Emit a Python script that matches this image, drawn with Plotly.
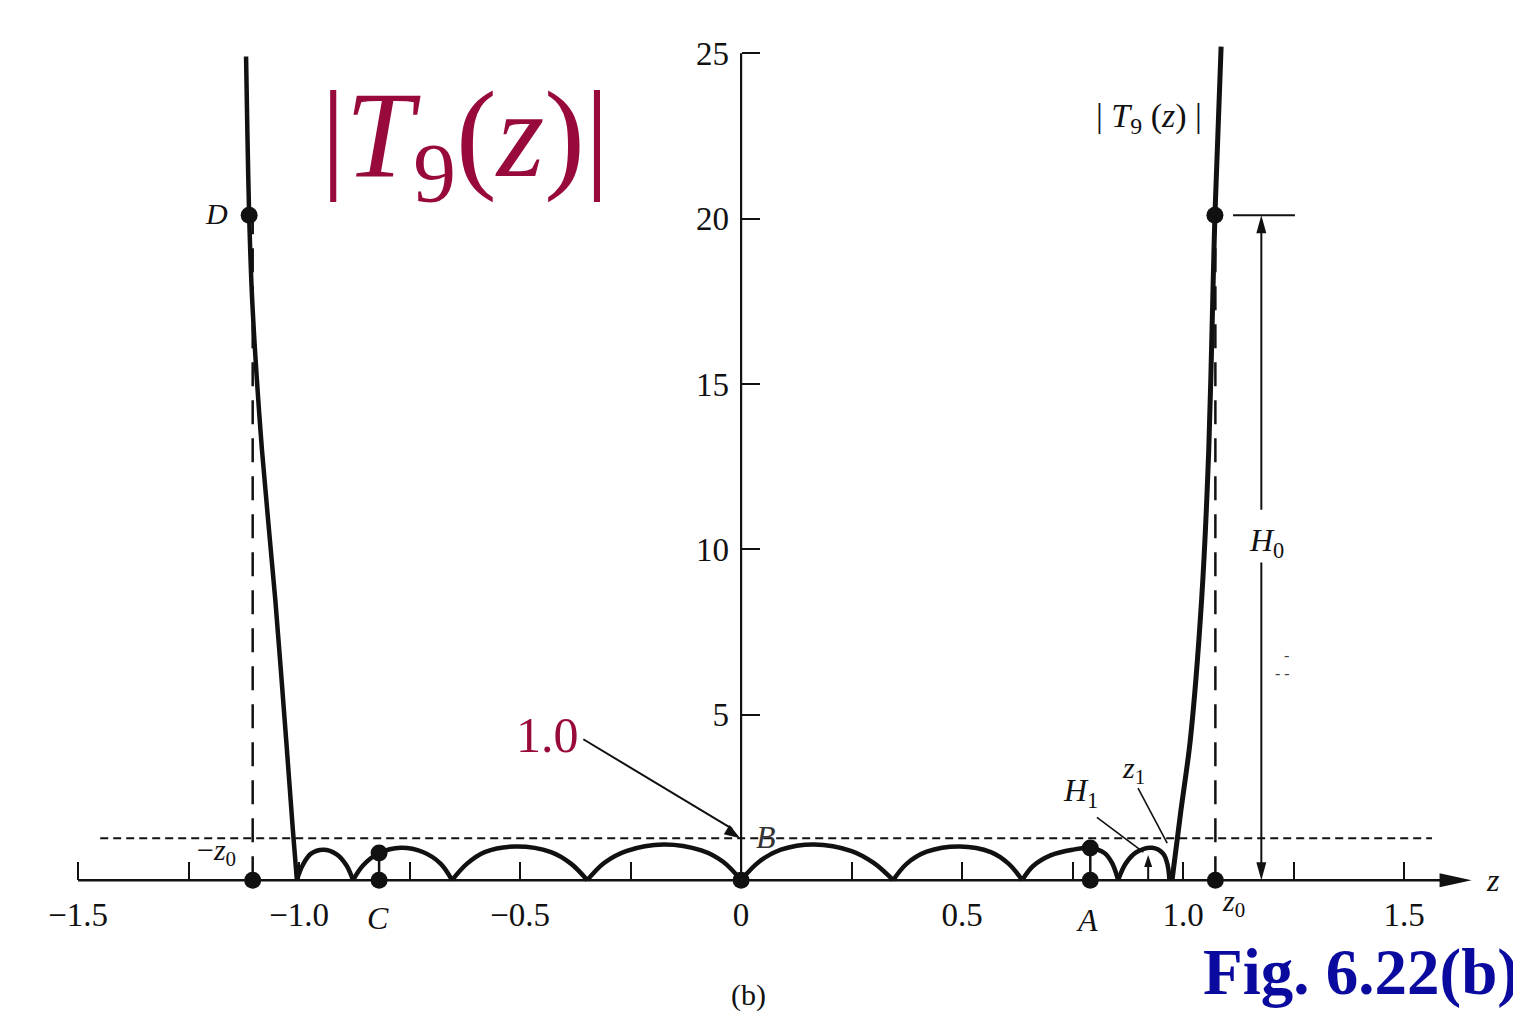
import plotly.graph_objects as go

# ---------------- data ----------------
# |T9(z)| arches between successive zeros
arch1_z = [-1.005, -0.992, -0.973, -0.945, -0.915, -0.893, -0.878]
arch1_t = [0.0, 0.45, 0.80, 0.92, 0.78, 0.45, 0.0]
arch2_z = [-0.878, -0.855, -0.819, -0.770, -0.720, -0.680, -0.654]
arch2_t = [0.0, 0.45, 0.82, 0.98, 0.85, 0.50, 0.0]
arch3_z = [-0.654, -0.620, -0.580, -0.510, -0.430, -0.385, -0.348]
arch3_t = [0.0, 0.50, 0.85, 1.02, 0.85, 0.50, 0.0]
arch4_z = [-0.348, -0.310, -0.260, -0.175, -0.090, -0.040, 0.000]
arch4_t = [0.0, 0.52, 0.88, 1.08, 0.90, 0.55, 0.0]
arch5_z = [0.000, 0.040, 0.090, 0.165, 0.250, 0.300, 0.344]
arch5_t = [0.0, 0.55, 0.92, 1.08, 0.88, 0.52, 0.0]
arch6_z = [0.344, 0.375, 0.420, 0.495, 0.565, 0.605, 0.636]
arch6_t = [0.0, 0.50, 0.86, 1.02, 0.85, 0.50, 0.0]
arch7_z = [0.636, 0.660, 0.700, 0.750, 0.790, 0.822, 0.840, 0.853]
arch7_t = [0.0, 0.42, 0.75, 0.92, 0.97, 0.82, 0.50, 0.0]
arch8_z = [0.853, 0.870, 0.895, 0.930, 0.955, 0.965, 0.969]
arch8_t = [0.0, 0.50, 0.85, 0.98, 0.80, 0.45, 0.0]

# steep outer branches (|z| > 1)
left_z = [-1.005, -1.014, -1.029, -1.054, -1.084, -1.106, -1.113, -1.117, -1.120]
left_t = [0.0, 1.5, 4.2, 8.5, 13.0, 17.5, 20.1, 22.6, 24.9]
right_z = [0.975, 0.995, 1.016, 1.042, 1.058, 1.067, 1.072, 1.086]
right_t = [0.0, 2.1, 4.2, 8.5, 13.0, 17.5, 20.1, 25.2]

# marked points: -z0, C(axis), C(curve), B, A(axis), A(curve), z0, D, top-right
pt_z = [-1.105, -0.819, -0.819, 0.0, 0.790, 0.790, 1.073, -1.113, 1.072]
pt_t = [0.0, 0.0, 0.82, 0.0, 0.0, 0.97, 0.0, 20.1, 20.1]

x_tickvals = [-1.5, -1.0, -0.5, 0.0, 0.5, 1.0, 1.5]
x_ticktext = ["\u22121.5", "\u22121.0", "\u22120.5", "0", "0.5", "1.0", "1.5"]
y_tickvals = [5, 10, 15, 20, 25]
y_ticktext = ["5", "10", "15", "20", "25"]

ref_level = 1.27       # dashed horizontal reference line
z0_val = 1.073
mz0_val = -1.105
H0_level = 20.1
H1_level = 0.76

# ---------------- layout geometry ----------------
OFF = 8                      # page offset of the figure (body margin)
W, H = 1521 - OFF, 1013 - OFF
PAGE_L, PAGE_R, PAGE_T, PAGE_B = 56, 1472, 40, 900
ML, MR, MT, MB = PAGE_L - OFF, W - (PAGE_R - OFF), PAGE_T - OFF, H - (PAGE_B - OFF)
PW = W - ML - MR
PH = H - MT - MB
XR = [-1.55, -1.55 + PW / 442.0]
YR = [-0.6, 25.4]
SX = PW / (XR[1] - XR[0])
SY = PH / (YR[1] - YR[0])

SERIF = "Liberation Serif, Times New Roman, serif"
MAROON = "#990a3c"
INK = "#111111"


def head(x0, y0, x1, y1, L, Wd):
    dx = (x1 - x0) * SX
    dy = (y1 - y0) * SY
    n = (dx * dx + dy * dy) ** 0.5
    ux, uy = dx / n, dy / n
    bx, by = x1 * SX - ux * L, y1 * SY - uy * L
    px, py = -uy, ux
    pts = [(x1 * SX, y1 * SY), (bx + px * Wd, by + py * Wd), (bx - px * Wd, by - py * Wd)]
    return "M " + " L ".join(f"{a / SX:.5f},{b / SY:.5f}" for a, b in pts) + " Z"


fig = go.Figure()

arch_list = [(arch1_z, arch1_t), (arch2_z, arch2_t), (arch3_z, arch3_t), (arch4_z, arch4_t),
             (arch5_z, arch5_t), (arch6_z, arch6_t), (arch7_z, arch7_t), (arch8_z, arch8_t)]
ax_x, ax_y = [], []
for zz, tt in arch_list:
    ax_x += zz + [None]
    ax_y += tt + [None]
fig.add_trace(go.Scatter(x=ax_x, y=ax_y, mode="lines",
                         line=dict(color=INK, width=4.5, shape="spline", smoothing=1.0),
                         connectgaps=False, hoverinfo="skip"))
fig.add_trace(go.Scatter(x=left_z, y=left_t, mode="lines",
                         line=dict(color=INK, width=4.5, shape="spline", smoothing=0.8),
                         hoverinfo="skip"))
fig.add_trace(go.Scatter(x=right_z, y=right_t, mode="lines",
                         line=dict(color=INK, width=5, shape="spline", smoothing=0.8),
                         hoverinfo="skip"))
fig.add_trace(go.Scatter(x=pt_z, y=pt_t, mode="markers", cliponaxis=False,
                         marker=dict(color=INK, size=17), hoverinfo="skip"))

shapes = []
x_tip = XR[1] - 0.001
shapes.append(dict(type="line", xref="x", yref="y", x0=-1.5, x1=x_tip - 0.02, y0=0, y1=0,
                   line=dict(color=INK, width=2.5)))
shapes.append(dict(type="path", xref="x", yref="y", path=head(-1.5, 0, x_tip, 0, 32, 7),
                   fillcolor=INK, line=dict(width=0)))
shapes.append(dict(type="line", xref="x", yref="y", x0=0, x1=0, y0=0, y1=25,
                   line=dict(color=INK, width=2.2)))
for xv in (mz0_val, z0_val):
    shapes.append(dict(type="line", xref="x", yref="y", x0=xv, x1=xv, y0=0, y1=H0_level,
                       line=dict(color=INK, width=2.5, dash="24px,14px")))
shapes.append(dict(type="line", xref="x", yref="y", x0=-1.45, x1=1.563, y0=ref_level, y1=ref_level,
                   line=dict(color=INK, width=2, dash="8px,5px")))
shapes.append(dict(type="line", xref="x", yref="y", x0=pt_z[1], x1=pt_z[2], y0=pt_t[1], y1=pt_t[2],
                   line=dict(color=INK, width=2.5)))
shapes.append(dict(type="line", xref="x", yref="y", x0=pt_z[4], x1=pt_z[5], y0=pt_t[4], y1=pt_t[5],
                   line=dict(color=INK, width=2.5)))
h0x = 1.177
shapes.append(dict(type="line", xref="x", yref="y", x0=1.113, x1=1.253, y0=H0_level, y1=H0_level,
                   line=dict(color=INK, width=2)))
shapes.append(dict(type="line", xref="x", yref="y", x0=h0x, x1=h0x, y0=11.2, y1=H0_level - 0.3,
                   line=dict(color=INK, width=2)))
shapes.append(dict(type="path", xref="x", yref="y", path=head(h0x, 11.2, h0x, H0_level, 18, 5),
                   fillcolor=INK, line=dict(width=0)))
shapes.append(dict(type="line", xref="x", yref="y", x0=h0x, x1=h0x, y0=9.6, y1=0.3,
                   line=dict(color=INK, width=2)))
shapes.append(dict(type="path", xref="x", yref="y", path=head(h0x, 9.6, h0x, 0, 18, 5),
                   fillcolor=INK, line=dict(width=0)))
shapes.append(dict(type="line", xref="x", yref="y", x0=0.921, x1=0.921, y0=0, y1=H1_level - 0.2,
                   line=dict(color=INK, width=2)))
shapes.append(dict(type="path", xref="x", yref="y", path=head(0.921, 0, 0.921, H1_level, 12, 4),
                   fillcolor=INK, line=dict(width=0)))
shapes.append(dict(type="line", xref="x", yref="y", x0=0.805, y0=1.90, x1=0.910, y1=0.85,
                   line=dict(color=INK, width=1.6)))
shapes.append(dict(type="line", xref="x", yref="y", x0=0.898, y0=2.78, x1=0.964, y1=1.12,
                   line=dict(color=INK, width=1.6)))
shapes.append(dict(type="line", xref="x", yref="y", x0=-0.357, y0=4.26, x1=-0.02, y1=1.55,
                   line=dict(color=INK, width=2)))
shapes.append(dict(type="path", xref="x", yref="y", path=head(-0.357, 4.26, -0.002, 1.27, 16, 5.5),
                   fillcolor=INK, line=dict(width=0)))


def ppx(px):
    return (px - PAGE_L) / PW


def ppy(py):
    return (PAGE_B - py) / PH


ann = []


def txt(x, y, s, size, color=INK, xref="x", yref="y", xanchor="center", yanchor="middle"):
    ann.append(dict(x=x, y=y, xref=xref, yref=yref, text=s, showarrow=False,
                    xanchor=xanchor, yanchor=yanchor,
                    font=dict(family=SERIF, size=size, color=color)))


txt(-0.625, 22.28, "|<i>T</i><sub>9</sub>(<i>z</i>)|", 122, MAROON)
txt(0.923, 23.04, "| <i>T</i><sub>9</sub> (<i>z</i>) |", 34)
txt(-1.186, 20.16, "<i>D</i>", 30)
txt(-1.188, 0.85, "\u2212<i>z</i><sub>0</sub>", 30)
txt(-0.437, 4.38, "1.0", 50, MAROON)
txt(0.057, 1.30, "<i>B</i>", 32, "#333333")
txt(1.188, 10.22, "<i>H</i><sub>0</sub>", 32)
txt(0.767, 2.66, "<i>H</i><sub>1</sub>", 32)
txt(0.887, 3.33, "<i>z</i><sub>1</sub>", 30)
txt(1.235, 6.80, "-", 16, "#444444")
txt(1.226, 6.26, "- -", 16, "#444444")
txt(-0.821, ppy(918), "<i>C</i>", 32, yref="paper")
txt(0.783, ppy(920), "<i>A</i>", 32, yref="paper")
txt(1.115, ppy(903), "<i>z</i><sub>0</sub>", 30, yref="paper")
txt(0.016, ppy(995), "(b)", 30, yref="paper")
txt(ppx(1493), 0.0, "<i>z</i>", 32, xref="paper")
txt(ppx(1201), ppy(972), "<b>Fig. 6.22(b)</b>", 65, "#0a0a9e", xref="paper", yref="paper",
    xanchor="left")

tickstyle = dict(ticks="inside", ticklen=18, tickwidth=2, tickcolor=INK)
fig.update_layout(
    width=W, height=H,
    margin=dict(l=ML, r=MR, t=MT, b=MB, pad=0),
    paper_bgcolor="white", plot_bgcolor="white",
    showlegend=False,
    shapes=shapes,
    annotations=ann,
    xaxis=dict(range=XR, showgrid=False, zeroline=False, showline=False,
               anchor="free", position=(0 - YR[0]) / (YR[1] - YR[0]),
               tickmode="array", tickvals=x_tickvals, ticktext=x_ticktext,
               minor=dict(tick0=0, dtick=0.25, **tickstyle),
               tickfont=dict(family=SERIF, size=33, color=INK), ticklabelstandoff=12,
               **tickstyle),
    yaxis=dict(range=YR, showgrid=False, zeroline=False, showline=False,
               anchor="free", position=(0 - XR[0]) / (XR[1] - XR[0]),
               tickmode="array", tickvals=y_tickvals, ticktext=y_ticktext,
               tickfont=dict(family=SERIF, size=33, color=INK), ticklabelstandoff=12,
               **tickstyle),
)

fig.write_html("out.html")
